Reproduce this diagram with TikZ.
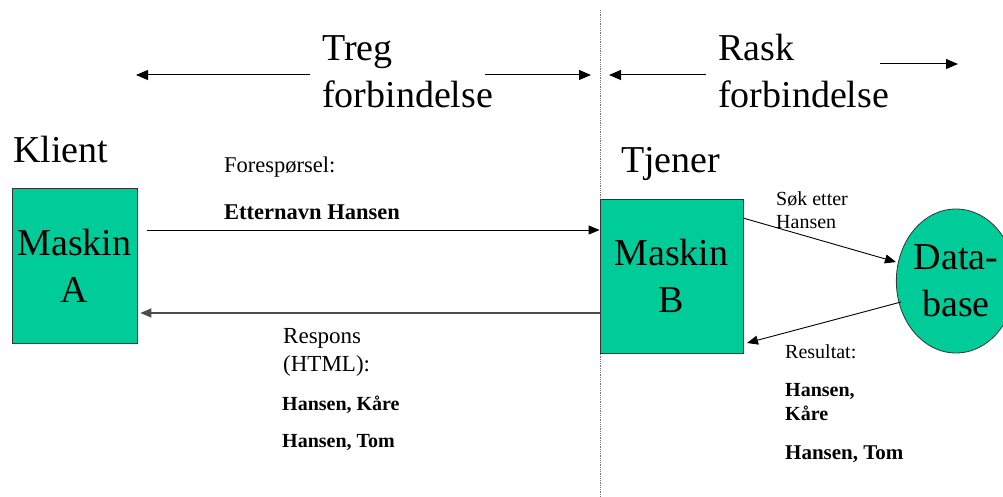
\documentclass[tikz,border=0pt]{standalone}
\usepackage{fontspec}
\setmainfont{Liberation Serif}
\usetikzlibrary{arrows.meta,shapes.geometric}
\definecolor{boxfill}{HTML}{00CC99}
\begin{document}
\begin{tikzpicture}[x=1pt,y=-1pt,
  big/.style={font=\fontsize{38}{47}\selectfont,inner sep=0pt},
  small/.style={font=\fontsize{20}{24}\selectfont,inner sep=0pt,anchor=base west},
  smallbold/.style={font=\fontsize{20}{24}\selectfont\bfseries,inner sep=0pt,anchor=base west},
  machine/.style={draw=black!80,line width=0.8pt,fill=boxfill,inner sep=0pt,
    font=\fontsize{38}{47}\selectfont,align=center},
  arr/.style={line width=0.9pt,-{Triangle[length=11pt,width=9pt]}},
  toparr/.style={line width=1pt,-{Triangle[length=12pt,width=10pt]}}]
\useasboundingbox (0,0) rectangle (1003,497);
\clip (0,0) rectangle (1003,497);

% client / server divider
\draw[black!55,densely dotted,line width=0.8pt] (600,10) -- (600,497);

% connection speed headings
\node[big,anchor=base west] (treg) at (322,61) {Treg};
\node[big,anchor=base west] (tregb) at (322,108) {forbindelse};
\node[big,anchor=base west] (rask) at (718,61) {Rask};
\node[big,anchor=base west] (raskb) at (718,108) {forbindelse};
\coordinate (tregL) at (136,75);
\coordinate (tregR) at (591,75);
\coordinate (raskL) at (609,75);
\coordinate (raskR) at (958,64);
\draw[toparr] (310,75) -- (tregL);
\draw[toparr] (485,75) -- (tregR);
\draw[toparr] (706,75) -- (raskL);
\draw[toparr] (880,64) -- (raskR);

% sides
\node[big,anchor=base west] (klient) at (13,163) {Klient};
\node[big,anchor=base west] (tjener) at (621,172) {Tjener};

% machines and database
\node[machine,minimum width=125pt,minimum height=155pt] (A) at (74.5,265.5) {Maskin\\A};
\node[machine,minimum width=143pt,minimum height=154pt] (B) at (671.5,276) {Maskin\\B};
\node[machine,ellipse,minimum width=110pt,minimum height=144pt] (DB) at (956,281) {Data-\\base};

% request and response
\coordinate (reqS) at (147,230);
\draw[arr] (reqS) -- (B.west |- reqS);
\coordinate (resS) at (600,313);
\draw[line width=1.4pt,black!70,-{Triangle[length=11pt,width=9pt]}] (B.west |- resS) -- ([xshift=3pt]A.east |- resS);

% database query and result
\draw[arr] (743,218) -- (DB.west |- 0,262);
\coordinate (dbS) at (901,302);
\draw[arr] (dbS) -- (747,343);

% labels
\node[small,font=\fontsize{22.5}{27}\selectfont] (fq) at (224,172) {Forespørsel:};
\node[smallbold,font=\fontsize{22.5}{27}\selectfont\bfseries] (fqn) at (224,219) {Etternavn Hansen};
\node[small,font=\fontsize{23}{27}\selectfont] (rs1) at (283,343) {Respons};
\node[small,font=\fontsize{23}{27}\selectfont] (rs2) at (283,371) {(HTML):};
\node[smallbold] (rs3) at (282,410) {Hansen, Kåre};
\node[smallbold] (rs4) at (282,447) {Hansen, Tom};
\node[small] (sk1) at (776,205) {Søk etter};
\node[small] (sk2) at (776,228) {Hansen};
\node[small] (rt1) at (785,358) {Resultat:};
\node[smallbold] (rt2) at (785,396) {Hansen,};
\node[smallbold] (rt3) at (785,420) {Kåre};
\node[smallbold,font=\fontsize{21}{25}\selectfont\bfseries] (rt4) at (785,459) {Hansen, Tom};
\end{tikzpicture}
\end{document}
